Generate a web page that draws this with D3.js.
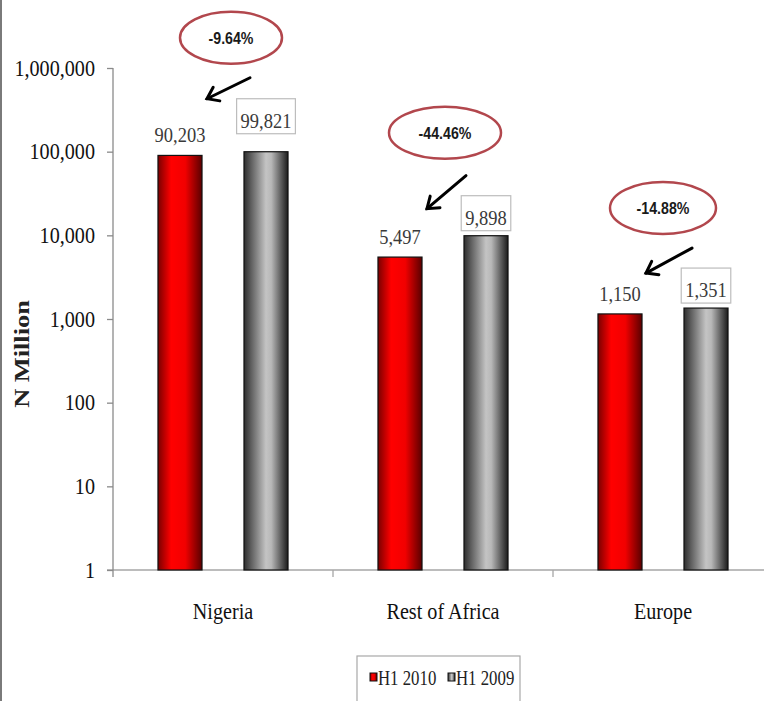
<!DOCTYPE html>
<html><head><meta charset="utf-8">
<script src="https://cdn.jsdelivr.net/npm/d3@7"></script>
<style>
html,body{margin:0;padding:0;background:#fff;}
svg{display:block;}
</style></head>
<body>
<svg id="chart" width="764" height="701"></svg>
<script>
// ---- data ----
const categories = ["Nigeria", "Rest of Africa", "Europe"];
const seriesNames = ["H1 2010", "H1 2009"];
const valuesH1_2010 = [90203, 5497, 1150];
const valuesH1_2009 = [99821, 9898, 1351];
const changeLabels = ["-9.64%", "-44.46%", "-14.88%"];
const yTickValues = [1, 10, 100, 1000, 10000, 100000, 1000000];
const yAxisTitle = "N Million";

// ---- layout ----
const W = 764, H = 701;
const plot = {left: 113, right: 773, top: 68, bottom: 570};
const serif = "'Liberation Serif','Times New Roman',serif";
const sans = "'Liberation Sans Narrow','Liberation Sans',Arial,sans-serif";
const SX = 0.84; // horizontal condensation of the original text
// annotation placement relative to band start / gray bar top
const annDX = [118, 112, 110], annDY = [-114, -103, -100];
const annRX = [51, 56, 53];
const arrowStart = [[19, 40], [21, 43], [29, 40]];
const arrowEnd = [[-24, 61], [-18, 76], [-17, 65]];
const grayLabelGap = [18, 5, 5];

const svg = d3.select("#chart");

const y = d3.scaleLog().domain([1, 1e6]).range([plot.bottom, plot.top]);
const x0 = d3.scaleBand().domain(categories).range([plot.left, plot.right]).padding(0);
const x1 = d3.scaleBand().domain(seriesNames).range([0, x0.bandwidth()])
  .paddingInner(0.488).paddingOuter(0.523);

// gradients
const defs = svg.append("defs");
function grad(id, stops) {
  const g = defs.append("linearGradient").attr("id", id)
    .attr("x1", "0%").attr("x2", "100%").attr("y1", "0%").attr("y2", "0%");
  stops.forEach(s => g.append("stop").attr("offset", s[0]).attr("stop-color", s[1]));
}
grad("gRed", [[0, "#7a0000"], [0.3, "#ff0000"], [0.62, "#f20000"], [1, "#5a0000"]]);
grad("gGray", [[0, "#2e2e2e"], [0.5, "#c4c4c4"], [0.62, "#b8b8b8"], [1, "#1c1c1c"]]);
const fills = {"H1 2010": "url(#gRed)", "H1 2009": "url(#gGray)"};

// left border line
svg.append("line").attr("x1", 1).attr("x2", 1).attr("y1", 0).attr("y2", H)
  .attr("stroke", "#7a7a7a").attr("stroke-width", 2);

// x axis baseline
svg.append("line").attr("x1", plot.left - 6).attr("x2", W)
  .attr("y1", plot.bottom).attr("y2", plot.bottom)
  .attr("stroke", "#a6a6a6").attr("stroke-width", 1.3);
// category separator ticks
categories.forEach((c, i) => {
  if (i === 0) return;
  svg.append("line").attr("x1", x0(c)).attr("x2", x0(c))
    .attr("y1", plot.bottom).attr("y2", plot.bottom + 7)
    .attr("stroke", "#a6a6a6").attr("stroke-width", 1.3);
});

// y axis
const yAxis = d3.axisLeft(y).tickValues(yTickValues).tickFormat(d3.format(",")).tickSize(6).tickPadding(12);
const gy = svg.append("g").attr("transform", `translate(${plot.left},0)`).call(yAxis);
gy.select(".domain").remove();
gy.append("line").attr("x1", 0).attr("x2", 0).attr("y1", plot.top).attr("y2", plot.bottom + 7)
  .attr("stroke", "#8a8a8a").attr("stroke-width", 1.3);
gy.selectAll(".tick line").attr("stroke", "#8a8a8a").attr("stroke-width", 1.3);
gy.selectAll(".tick text")
  .attr("font-family", serif).attr("font-size", 24).attr("fill", "#111")
  .attr("x", -18 / SX).attr("dy", "0.3em")
  .attr("transform", `scale(${SX},1)`);

// y axis title
svg.append("text")
  .attr("transform", `translate(29,354) rotate(-90) scale(1.2,1)`)
  .attr("text-anchor", "middle")
  .attr("font-family", serif).attr("font-weight", "bold").attr("font-size", 22)
  .attr("fill", "#222").text(yAxisTitle);

// category labels
categories.forEach(c => {
  svg.append("text")
    .attr("transform", `translate(${x0(c) + x0.bandwidth() / 2},619) scale(${SX},1)`)
    .attr("text-anchor", "middle").attr("font-family", serif).attr("font-size", 24)
    .attr("fill", "#111").text(c);
});

// bars
const rows = categories.map((c, i) => ({cat: c, i, vals: [valuesH1_2010[i], valuesH1_2009[i]]}));
const fmt = d3.format(",");
rows.forEach(r => {
  seriesNames.forEach((s, k) => {
    const v = r.vals[k];
    const bx = x0(r.cat) + x1(s);
    svg.append("rect").attr("x", bx).attr("y", y(v))
      .attr("width", x1.bandwidth()).attr("height", y(1) - y(v))
      .attr("fill", fills[s]).attr("stroke", "#111").attr("stroke-width", 1.2);
    const cx = bx + x1.bandwidth() / 2;
    if (k === 0) {
      svg.append("text")
        .attr("transform", `translate(${cx},${y(v) - 13}) scale(${SX},1)`)
        .attr("text-anchor", "middle").attr("font-family", serif).attr("font-size", 22)
        .attr("fill", "#3a3a3a").text(fmt(v));
    } else {
      const boxBottom = y(v) - grayLabelGap[r.i];
      const g = svg.append("g");
      const t = g.append("text")
        .attr("transform", `translate(${cx},${boxBottom - 6}) scale(${SX},1)`)
        .attr("text-anchor", "middle").attr("font-family", serif).attr("font-size", 22)
        .attr("fill", "#3a3a3a").text(fmt(v));
      const tw = t.node().getComputedTextLength() * SX;
      g.insert("rect", "text").attr("x", cx - tw / 2 - 4).attr("y", boxBottom - 35)
        .attr("width", tw + 8).attr("height", 35)
        .attr("fill", "#fff").attr("stroke", "#bdbdbd").attr("stroke-width", 1.2);
    }
  });
});

// annotations
rows.forEach(r => {
  const grayTop = y(r.vals[1]);
  const ecx = x0(r.cat) + annDX[r.i];
  const ecy = grayTop + annDY[r.i];
  svg.append("ellipse").attr("cx", ecx).attr("cy", ecy).attr("rx", annRX[r.i]).attr("ry", 26)
    .attr("fill", "#fff").attr("stroke", "#b2474d").attr("stroke-width", 2.5);
  svg.append("text")
    .attr("transform", `translate(${ecx},${ecy + 6}) scale(0.86,1)`)
    .attr("text-anchor", "middle").attr("font-family", sans).attr("font-weight", "bold")
    .attr("font-size", 16.5).attr("fill", "#1a1a1a").text(changeLabels[r.i]);
  const sx = ecx + arrowStart[r.i][0], sy = ecy + arrowStart[r.i][1];
  const ex = ecx + arrowEnd[r.i][0], ey = ecy + arrowEnd[r.i][1];
  svg.append("line").attr("x1", sx).attr("y1", sy).attr("x2", ex).attr("y2", ey)
    .attr("stroke", "#000").attr("stroke-width", 3).attr("stroke-linecap", "round");
  const ang = Math.atan2(sy - ey, sx - ex);
  const L = 13, spread = 0.62;
  const p1 = [ex + L * Math.cos(ang + spread), ey + L * Math.sin(ang + spread)];
  const p2 = [ex + L * Math.cos(ang - spread), ey + L * Math.sin(ang - spread)];
  svg.append("path").attr("d", `M${p1[0]},${p1[1]}L${ex},${ey}L${p2[0]},${p2[1]}`)
    .attr("fill", "none").attr("stroke", "#000").attr("stroke-width", 3)
    .attr("stroke-linecap", "round").attr("stroke-linejoin", "miter");
});

// legend
const lg = svg.append("g");
lg.append("rect").attr("x", 357).attr("y", 656).attr("width", 163).attr("height", 60)
  .attr("fill", "#fff").attr("stroke", "#a8a8a8").attr("stroke-width", 1.2);
const legendX = [370, 448];
seriesNames.forEach((s, k) => {
  lg.append("rect").attr("x", legendX[k]).attr("y", 673).attr("width", 7).attr("height", 8)
    .attr("fill", fills[s]).attr("stroke", "#111").attr("stroke-width", 1);
  lg.append("text").attr("transform", `translate(${legendX[k] + 8},685) scale(0.8,1)`)
    .attr("font-family", serif).attr("font-size", 21).attr("fill", "#222").text(s);
});
</script>
</body></html>
